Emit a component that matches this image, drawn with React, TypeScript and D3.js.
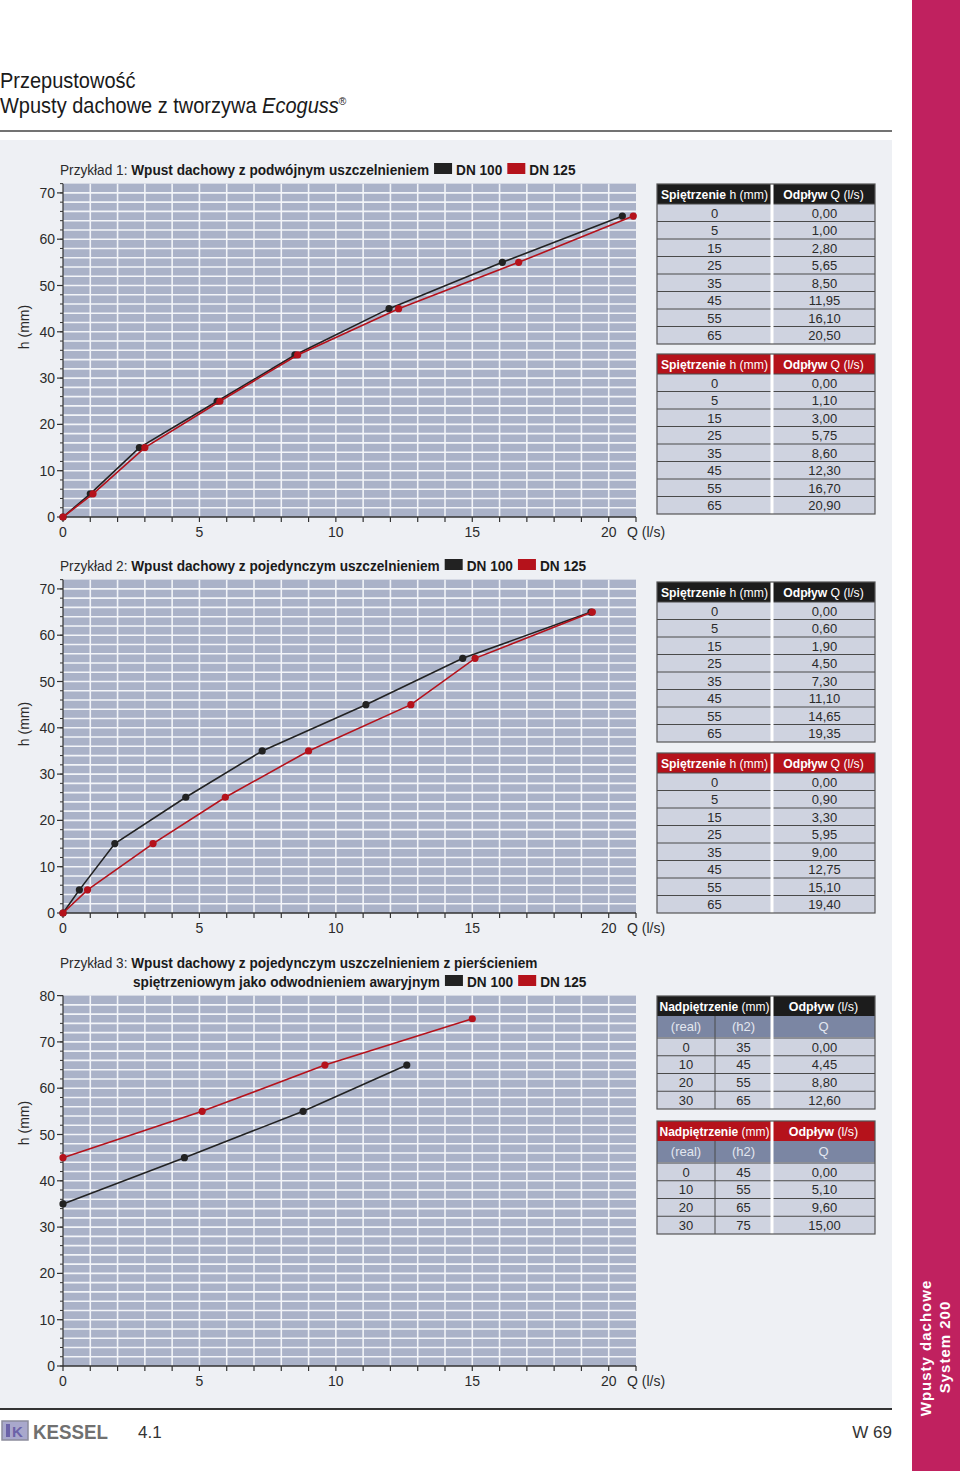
import React, { useEffect, useRef } from 'react';
import * as d3 from 'd3';

// ---------- data ----------
const hLevels = [0, 5, 15, 25, 35, 45, 55, 65];
const ex1Dn100Q = [0, 1.0, 2.8, 5.65, 8.5, 11.95, 16.1, 20.5];
const ex1Dn125Q = [0, 1.1, 3.0, 5.75, 8.6, 12.3, 16.7, 20.9];
const ex2Dn100Q = [0, 0.6, 1.9, 4.5, 7.3, 11.1, 14.65, 19.35];
const ex2Dn125Q = [0, 0.9, 3.3, 5.95, 9.0, 12.75, 15.1, 19.4];
const ex3RealH = [0, 10, 20, 30];
const ex3Dn100H2 = [35, 45, 55, 65];
const ex3Dn100Q = [0, 4.45, 8.8, 12.6];
const ex3Dn125H2 = [45, 55, 65, 75];
const ex3Dn125Q = [0, 5.1, 9.6, 15.0];
const xTickLabels = [0, 5, 10, 15, 20];
const yTickLabels70 = [0, 10, 20, 30, 40, 50, 60, 70];
const yTickLabels80 = [0, 10, 20, 30, 40, 50, 60, 70, 80];
const seriesNames = ['DN 100', 'DN 125'];

// ---------- style ----------
const FONT = '"Liberation Sans", Arial, Helvetica, sans-serif';
const BLACK = '#222222';
const RED = '#b5121b';
const PLOT_BG = '#aab2c8';
const GRID = '#f2f4f8';
const PANEL = '#eef0f4';
const ROW_BG = '#cfd3e0';
const SUB_BG = '#7b86a3';
const TEXT = '#2b2b2b';
const MAGENTA = '#c0215f';
const PX_PER_MM = 4.63;
const CONDENSE = 0.91;

const fmtQ = (v: number) => v.toFixed(2).replace('.', ',');

type Sel = d3.Selection<any, any, any, any>;

function drawTitle(root: Sel, lines: { x: number; y: number; reg?: string; bold: string; legend?: boolean }[]) {
  lines.forEach((ln) => {
    const g = root.append('g').attr('transform', `translate(${ln.x},${ln.y}) scale(${CONDENSE},1)`);
    const t = g.append('text').attr('x', 0).attr('y', 0).attr('font-size', 15).attr('fill', TEXT);
    if (ln.reg) t.append('tspan').text(ln.reg);
    t.append('tspan').attr('font-weight', 'bold').attr('fill', '#1a1a1a').text(ln.bold);
    if (ln.legend) {
      const w = (t.node() as SVGTextElement).getComputedTextLength();
      let cx = w + 5 / CONDENSE;
      seriesNames.forEach((name, i) => {
        g.append('rect')
          .attr('x', cx)
          .attr('y', -12)
          .attr('width', 18 / CONDENSE)
          .attr('height', 11)
          .attr('fill', i === 0 ? BLACK : RED);
        const lt = g
          .append('text')
          .attr('x', cx + 22 / CONDENSE)
          .attr('y', 0)
          .attr('font-size', 15)
          .attr('font-weight', 'bold')
          .attr('fill', '#1a1a1a')
          .text(name);
        cx = cx + 22 / CONDENSE + (lt.node() as SVGTextElement).getComputedTextLength() + 5 / CONDENSE;
      });
    }
  });
}

function drawChart(
  root: Sel,
  opt: {
    bottom: number;
    yMax: number;
    yTicks: number[];
    yLabelY: number;
    series: { q: number[]; h: number[]; color: string }[];
  }
) {
  const g = root.append('g');
  const x = d3.scaleLinear().domain([0, 21]).range([63, 636]);
  const y = d3
    .scaleLinear()
    .domain([0, opt.yMax])
    .range([opt.bottom, opt.bottom - opt.yMax * PX_PER_MM]);

  g.append('rect')
    .attr('x', x(0))
    .attr('y', y(opt.yMax))
    .attr('width', x(21) - x(0))
    .attr('height', y(0) - y(opt.yMax))
    .attr('fill', PLOT_BG);

  g.selectAll('line.vg')
    .data(d3.range(1, 21))
    .join('line')
    .attr('x1', (d) => x(d))
    .attr('x2', (d) => x(d))
    .attr('y1', y(0))
    .attr('y2', y(opt.yMax))
    .attr('stroke', GRID)
    .attr('stroke-width', 1.6);

  g.selectAll('line.hg')
    .data(d3.range(2, opt.yMax, 2))
    .join('line')
    .attr('x1', x(0))
    .attr('x2', x(21))
    .attr('y1', (d) => y(d))
    .attr('y2', (d) => y(d))
    .attr('stroke', GRID)
    .attr('stroke-width', 1.6);

  // y axis
  g.append('line')
    .attr('x1', x(0))
    .attr('x2', x(0))
    .attr('y1', y(0))
    .attr('y2', y(opt.yMax))
    .attr('stroke', '#333')
    .attr('stroke-width', 1.2);
  g.selectAll('line.ymin')
    .data(d3.range(0, opt.yMax + 0.1, 2))
    .join('line')
    .attr('x1', x(0) - 3)
    .attr('x2', x(0))
    .attr('y1', (d) => y(d))
    .attr('y2', (d) => y(d))
    .attr('stroke', '#333')
    .attr('stroke-width', 1);
  g.selectAll('line.ymaj')
    .data(opt.yTicks)
    .join('line')
    .attr('x1', x(0) - 6)
    .attr('x2', x(0))
    .attr('y1', (d) => y(d))
    .attr('y2', (d) => y(d))
    .attr('stroke', '#333')
    .attr('stroke-width', 1.2);
  g.selectAll('text.yl')
    .data(opt.yTicks)
    .join('text')
    .attr('x', x(0) - 8)
    .attr('y', (d) => y(d) + 5)
    .attr('text-anchor', 'end')
    .attr('font-size', 14)
    .attr('fill', TEXT)
    .text((d) => String(d));

  // x axis
  g.append('line')
    .attr('x1', x(0))
    .attr('x2', x(21))
    .attr('y1', y(0))
    .attr('y2', y(0))
    .attr('stroke', '#333')
    .attr('stroke-width', 1.6);
  g.selectAll('line.xt')
    .data(d3.range(0, 22))
    .join('line')
    .attr('x1', (d) => x(d))
    .attr('x2', (d) => x(d))
    .attr('y1', y(0))
    .attr('y2', y(0) + 5)
    .attr('stroke', '#333')
    .attr('stroke-width', 1.2);
  g.selectAll('text.xl')
    .data(xTickLabels)
    .join('text')
    .attr('x', (d) => x(d))
    .attr('y', y(0) + 20)
    .attr('text-anchor', 'middle')
    .attr('font-size', 14)
    .attr('fill', TEXT)
    .text((d) => String(d));
  g.append('text')
    .attr('x', 627)
    .attr('y', y(0) + 20)
    .attr('font-size', 14)
    .attr('fill', TEXT)
    .text('Q (l/s)');

  g.append('text')
    .attr('transform', `translate(29,${opt.yLabelY}) rotate(-90)`)
    .attr('text-anchor', 'middle')
    .attr('font-size', 14)
    .attr('fill', TEXT)
    .text('h (mm)');

  const line = d3
    .line<[number, number]>()
    .x((d) => x(d[0]))
    .y((d) => y(d[1]));
  opt.series.forEach((s) => {
    const pts: [number, number][] = s.q.map((q, i) => [q, s.h[i]]);
    g.append('path')
      .attr('d', line(pts) as string)
      .attr('fill', 'none')
      .attr('stroke', s.color)
      .attr('stroke-width', 1.6);
    g.selectAll(null)
      .data(pts)
      .join('circle')
      .attr('cx', (d) => x(d[0]))
      .attr('cy', (d) => y(d[1]))
      .attr('r', 3.6)
      .attr('fill', s.color);
  });
}

function headerText(g: Sel, cx: number, y: number, bold: string, reg: string, size = 12.5) {
  const t = g
    .append('text')
    .attr('x', cx)
    .attr('y', y)
    .attr('text-anchor', 'middle')
    .attr('font-size', size)
    .attr('fill', '#ffffff');
  t.append('tspan').attr('font-weight', 'bold').text(bold);
  t.append('tspan').text(reg);
}

function drawTable2(root: Sel, top: number, headColor: string, hs: number[], qs: number[]) {
  const x0 = 657,
    xm = 772,
    x1 = 875,
    headH = 20,
    rowH = 17.5;
  const g = root.append('g');
  const bodyTop = top + headH;
  const bottom = bodyTop + hs.length * rowH;
  g.append('rect').attr('x', x0).attr('y', bodyTop).attr('width', x1 - x0).attr('height', bottom - bodyTop).attr('fill', ROW_BG);
  g.append('rect').attr('x', x0).attr('y', top).attr('width', x1 - x0).attr('height', headH).attr('fill', headColor);
  d3.range(0, hs.length).forEach((i) => {
    g.append('line')
      .attr('x1', x0)
      .attr('x2', x1)
      .attr('y1', bodyTop + i * rowH)
      .attr('y2', bodyTop + i * rowH)
      .attr('stroke', '#4a4a4a')
      .attr('stroke-width', 1);
  });
  g.append('line').attr('x1', xm).attr('x2', xm).attr('y1', top).attr('y2', bottom).attr('stroke', '#ffffff').attr('stroke-width', 3);
  g.append('rect')
    .attr('x', x0)
    .attr('y', top)
    .attr('width', x1 - x0)
    .attr('height', bottom - top)
    .attr('fill', 'none')
    .attr('stroke', '#555')
    .attr('stroke-width', 1.2);
  headerText(g, (x0 + xm) / 2, top + 14.5, 'Spiętrzenie', ' h (mm)', 12.2);
  headerText(g, (xm + x1) / 2, top + 14.5, 'Odpływ', ' Q (l/s)', 12.2);
  hs.forEach((h, i) => {
    const by = bodyTop + i * rowH + 13.5;
    g.append('text').attr('x', (x0 + xm) / 2).attr('y', by).attr('text-anchor', 'middle').attr('font-size', 13).attr('fill', TEXT).text(String(h));
    g.append('text').attr('x', (xm + x1) / 2 + 1).attr('y', by).attr('text-anchor', 'middle').attr('font-size', 13).attr('fill', TEXT).text(fmtQ(qs[i]));
  });
}

function drawTable3(root: Sel, top: number, headColor: string, real: number[], h2: number[], qs: number[]) {
  const x0 = 657,
    xa = 715,
    xm = 772,
    x1 = 875,
    headH = 20,
    subH = 21,
    rowH = 17.75;
  const g = root.append('g');
  const subTop = top + headH;
  const bodyTop = subTop + subH + 1;
  const bottom = bodyTop + real.length * rowH;
  g.append('rect').attr('x', x0).attr('y', top).attr('width', x1 - x0).attr('height', bottom - top).attr('fill', ROW_BG);
  g.append('rect').attr('x', x0).attr('y', top).attr('width', x1 - x0).attr('height', headH).attr('fill', headColor);
  g.append('rect').attr('x', x0).attr('y', subTop).attr('width', x1 - x0).attr('height', subH).attr('fill', SUB_BG);
  d3.range(0, real.length).forEach((i) => {
    g.append('line')
      .attr('x1', x0)
      .attr('x2', x1)
      .attr('y1', bodyTop + i * rowH)
      .attr('y2', bodyTop + i * rowH)
      .attr('stroke', '#4a4a4a')
      .attr('stroke-width', 1);
  });
  g.append('line').attr('x1', xa).attr('x2', xa).attr('y1', subTop).attr('y2', bottom).attr('stroke', '#4a4a4a').attr('stroke-width', 1);
  g.append('line').attr('x1', xm).attr('x2', xm).attr('y1', top).attr('y2', bottom).attr('stroke', '#ffffff').attr('stroke-width', 3);
  g.append('rect')
    .attr('x', x0)
    .attr('y', top)
    .attr('width', x1 - x0)
    .attr('height', bottom - top)
    .attr('fill', 'none')
    .attr('stroke', '#555')
    .attr('stroke-width', 1.2);
  headerText(g, (x0 + xm) / 2, top + 14.5, 'Nadpiętrzenie', ' (mm)', 12);
  headerText(g, (xm + x1) / 2, top + 14.5, 'Odpływ', ' (l/s)', 12.5);
  [
    { cx: (x0 + xa) / 2, t: '(real)' },
    { cx: (xa + xm) / 2, t: '(h2)' },
    { cx: (xm + x1) / 2, t: 'Q' },
  ].forEach((s) => {
    g.append('text').attr('x', s.cx).attr('y', subTop + 15).attr('text-anchor', 'middle').attr('font-size', 13).attr('fill', '#e3e7f0').text(s.t);
  });
  real.forEach((r, i) => {
    const by = bodyTop + i * rowH + 13.5;
    g.append('text').attr('x', (x0 + xa) / 2).attr('y', by).attr('text-anchor', 'middle').attr('font-size', 13).attr('fill', TEXT).text(String(r));
    g.append('text').attr('x', (xa + xm) / 2).attr('y', by).attr('text-anchor', 'middle').attr('font-size', 13).attr('fill', TEXT).text(String(h2[i]));
    g.append('text').attr('x', (xm + x1) / 2 + 1).attr('y', by).attr('text-anchor', 'middle').attr('font-size', 13).attr('fill', TEXT).text(fmtQ(qs[i]));
  });
}

export default function App() {
  const ref = useRef<SVGSVGElement>(null);
  useEffect(() => {
    if (!ref.current) return;
    const svg = d3.select(ref.current);
    svg.selectAll('*').remove();
    svg.attr('font-family', FONT);

    // page header
    const h1 = svg.append('g').attr('transform', `translate(0,88) scale(0.93,1)`);
    h1.append('text').attr('x', 0).attr('y', 0).attr('font-size', 21.5).attr('fill', '#1a1a1a').text('Przepustowość');
    const h2 = svg.append('g').attr('transform', `translate(0,113) scale(0.93,1)`);
    const t2 = h2.append('text').attr('x', 0).attr('y', 0).attr('font-size', 21.5).attr('fill', '#1a1a1a');
    t2.append('tspan').text('Wpusty dachowe z tworzywa ');
    t2.append('tspan').attr('font-style', 'italic').text('Ecoguss');
    t2.append('tspan').attr('font-size', 11).attr('dy', -8).text('®');
    svg.append('line').attr('x1', 0).attr('x2', 892).attr('y1', 131).attr('y2', 131).attr('stroke', '#444').attr('stroke-width', 1.5);

    // panel
    svg.append('rect').attr('x', 0).attr('y', 140).attr('width', 892).attr('height', 1268).attr('fill', PANEL);
    svg.append('line').attr('x1', 0).attr('x2', 892).attr('y1', 1409).attr('y2', 1409).attr('stroke', '#333').attr('stroke-width', 2);

    // example 1
    drawTitle(svg, [{ x: 60, y: 175, reg: 'Przykład 1: ', bold: 'Wpust dachowy z podwójnym uszczelnieniem', legend: true }]);
    drawChart(svg, {
      bottom: 517,
      yMax: 72,
      yTicks: yTickLabels70,
      yLabelY: 327,
      series: [
        { q: ex1Dn100Q, h: hLevels, color: BLACK },
        { q: ex1Dn125Q, h: hLevels, color: RED },
      ],
    });
    drawTable2(svg, 184, '#1c1c1c', hLevels, ex1Dn100Q);
    drawTable2(svg, 354, RED, hLevels, ex1Dn125Q);

    // example 2
    drawTitle(svg, [{ x: 60, y: 571, reg: 'Przykład 2: ', bold: 'Wpust dachowy z pojedynczym uszczelnieniem', legend: true }]);
    drawChart(svg, {
      bottom: 913,
      yMax: 72,
      yTicks: yTickLabels70,
      yLabelY: 724,
      series: [
        { q: ex2Dn100Q, h: hLevels, color: BLACK },
        { q: ex2Dn125Q, h: hLevels, color: RED },
      ],
    });
    drawTable2(svg, 582, '#1c1c1c', hLevels, ex2Dn100Q);
    drawTable2(svg, 753, RED, hLevels, ex2Dn125Q);

    // example 3
    drawTitle(svg, [
      { x: 60, y: 968, reg: 'Przykład 3: ', bold: 'Wpust dachowy z pojedynczym uszczelnieniem z pierścieniem' },
      { x: 133, y: 987, bold: 'spiętrzeniowym jako odwodnieniem awaryjnym', legend: true },
    ]);
    drawChart(svg, {
      bottom: 1366,
      yMax: 80,
      yTicks: yTickLabels80,
      yLabelY: 1123,
      series: [
        { q: ex3Dn100Q, h: ex3Dn100H2, color: BLACK },
        { q: ex3Dn125Q, h: ex3Dn125H2, color: RED },
      ],
    });
    drawTable3(svg, 996, '#1c1c1c', ex3RealH, ex3Dn100H2, ex3Dn100Q);
    drawTable3(svg, 1121, RED, ex3RealH, ex3Dn125H2, ex3Dn125Q);

    // footer
    svg.append('rect').attr('x', 2).attr('y', 1421).attr('width', 26).attr('height', 19).attr('fill', '#a9a8cc').attr('stroke', '#8c8c9c').attr('stroke-width', 1.5);
    svg.append('rect').attr('x', 6).attr('y', 1424).attr('width', 4).attr('height', 13).attr('fill', '#6b62a8');
    svg.append('text').attr('x', 12).attr('y', 1437).attr('font-size', 15).attr('font-weight', 'bold').attr('fill', '#6b62a8').text('K');
    svg.append('text').attr('x', 33).attr('y', 1439).attr('font-size', 21).attr('font-weight', 'bold').attr('fill', '#707070').attr('textLength', 75).attr('lengthAdjust', 'spacingAndGlyphs').text('KESSEL');
    svg.append('text').attr('x', 138).attr('y', 1438).attr('font-size', 17).attr('fill', '#333').text('4.1');
    svg.append('text').attr('x', 892).attr('y', 1438).attr('font-size', 17).attr('fill', '#333').attr('text-anchor', 'end').text('W 69');

    // side bar
    svg.append('rect').attr('x', 912).attr('y', 0).attr('width', 48).attr('height', 1471).attr('fill', MAGENTA);
    svg.append('text')
      .attr('transform', 'translate(931,1348) rotate(-90)')
      .attr('text-anchor', 'middle')
      .attr('font-size', 15)
      .attr('font-weight', 'bold')
      .attr('letter-spacing', 1)
      .attr('fill', '#ffffff')
      .text('Wpusty dachowe');
    svg.append('text')
      .attr('transform', 'translate(950,1347) rotate(-90)')
      .attr('text-anchor', 'middle')
      .attr('font-size', 15)
      .attr('font-weight', 'bold')
      .attr('letter-spacing', 1)
      .attr('fill', '#ffffff')
      .text('System 200');
  }, []);
  return (
    <svg
      ref={ref}
      width={960}
      height={1471}
      style={{ position: 'absolute', left: 0, top: 0, display: 'block' }}
    />
  );
}
